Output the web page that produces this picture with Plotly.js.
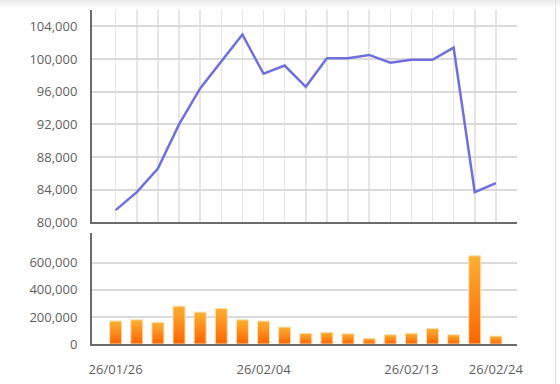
<!DOCTYPE html>
<html>
<head>
<meta charset="utf-8">
<script src="https://cdn.plot.ly/plotly-3.0.1.min.js"></script>
<style>
  html, body { margin: 0; padding: 0; width: 560px; height: 384px; overflow: hidden; background: #ffffff; }
  #topshade { position: absolute; left: 0; top: 0; width: 560px; height: 8px;
    background: linear-gradient(#e9e9e9, #ffffff); z-index: 2; pointer-events: none; }
  #rightline { position: absolute; left: 555px; top: 0; width: 1px; height: 384px; background: #e2e2e2; z-index: 2; }
  #chart { position: absolute; left: 0; top: 0; width: 560px; height: 384px; }
</style>
</head>
<body>
<div id="topshade"></div>
<div id="rightline"></div>
<div id="chart"></div>
<script>
const dates = ['26/01/26','26/01/27','26/01/28','26/01/29','26/01/30','26/02/02','26/02/03','26/02/04','26/02/05','26/02/06',
               '26/02/09','26/02/10','26/02/11','26/02/12','26/02/13','26/02/19','26/02/20','26/02/23','26/02/24'];
const prices = [81500, 83700, 86600, 92000, 96400, 99700, 103000, 98200, 99200, 96600,
                100100, 100100, 100500, 99550, 99900, 99900, 101400, 83700, 84800];
const volumes = [170000, 179000, 160000, 280000, 236000, 263000, 179000, 170000, 125000, 79000,
                 86000, 76000, 42000, 68600, 79000, 115600, 68600, 652000, 59000];
const tickLabels = ['26/01/26', '26/02/04', '26/02/13', '26/02/24'];
const priceTicks = [80000, 84000, 88000, 92000, 96000, 100000, 104000];
const volumeTicks = [0, 200000, 400000, 600000];

const font = { family: '"Open Sans", sans-serif', size: 13, color: '#5f5f5f' };
const xr = [-1.12, 19];

const traces = [
  { type: 'scatter', mode: 'lines', x: dates, y: prices, xaxis: 'x', yaxis: 'y',
    line: { color: '#6f6fe0', width: 2.5 }, hoverinfo: 'skip' },
  { type: 'bar', x: dates, y: volumes, xaxis: 'x2', yaxis: 'y2',
    marker: { color: '#ff8a1a', line: { color: '#fde2b4', width: 1 } }, hoverinfo: 'skip' }
];

const layout = {
  width: 560, height: 384,
  margin: { l: 92, r: 43, t: 10, b: 40 },
  paper_bgcolor: 'rgba(0,0,0,0)', plot_bgcolor: 'rgba(0,0,0,0)',
  showlegend: false, bargap: 0.43, font: font,
  xaxis: { type: 'category', range: xr, domain: [0, 1], anchor: 'y',
    tickvals: dates, showticklabels: false, ticks: '',
    showgrid: true, gridcolor: '#e6e6e6', gridwidth: 1.5,
    showline: true, linecolor: '#6b6b6b', linewidth: 2, zeroline: false, fixedrange: true },
  yaxis: { domain: [0.364, 1], range: [80000, 106000], anchor: 'x',
    tickvals: priceTicks, tickformat: ',d', ticks: '', ticklabelstandoff: 10,
    showgrid: true, gridcolor: '#dadada', gridwidth: 2,
    showline: true, linecolor: '#6b6b6b', linewidth: 2, zeroline: false, fixedrange: true },
  xaxis2: { type: 'category', range: xr, domain: [0, 1], anchor: 'y2',
    tickvals: tickLabels, ticktext: tickLabels, ticks: '', ticklabelstandoff: 12,
    showgrid: false, showline: true, linecolor: '#6b6b6b', linewidth: 2, zeroline: false, fixedrange: true },
  yaxis2: { domain: [0, 0.332], range: [0, 820000], anchor: 'x2',
    tickvals: volumeTicks, tickformat: ',d', ticks: '', ticklabelstandoff: 10,
    showgrid: true, gridcolor: '#dadada', gridwidth: 2,
    showline: true, linecolor: '#6b6b6b', linewidth: 2, zeroline: false, fixedrange: true }
};

Plotly.newPlot('chart', traces, layout, { staticPlot: true, displayModeBar: false }).then(function (gd) {
  const svg = gd.querySelector('svg.main-svg');
  const ns = 'http://www.w3.org/2000/svg';
  let defs = svg.querySelector('defs');
  if (!defs) { defs = document.createElementNS(ns, 'defs'); svg.insertBefore(defs, svg.firstChild); }
  const grad = document.createElementNS(ns, 'linearGradient');
  grad.setAttribute('id', 'barGrad');
  grad.setAttribute('x1', '0'); grad.setAttribute('y1', '0');
  grad.setAttribute('x2', '0'); grad.setAttribute('y2', '1');
  [['0', '#fbb034'], ['1', '#ff6400']].forEach(function (s) {
    const st = document.createElementNS(ns, 'stop');
    st.setAttribute('offset', s[0]); st.setAttribute('stop-color', s[1]);
    grad.appendChild(st);
  });
  defs.appendChild(grad);
  gd.querySelectorAll('.barlayer .point path').forEach(function (p) {
    p.style.fill = 'url(#barGrad)';
  });
});
</script>
</body>
</html>
